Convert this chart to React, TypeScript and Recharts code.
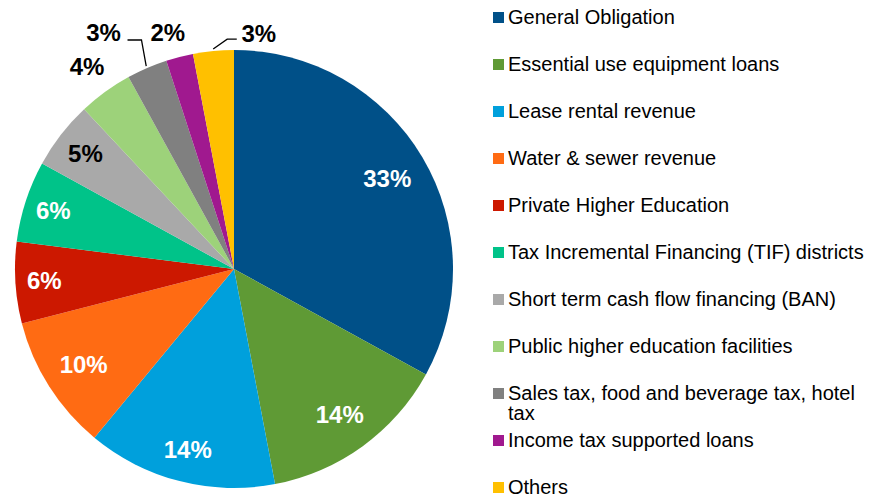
import React from 'react';
import { PieChart, Pie, Cell, Legend } from 'recharts';

const categories = [
  'General Obligation',
  'Essential use equipment loans',
  'Lease rental revenue',
  'Water & sewer revenue',
  'Private Higher Education',
  'Tax Incremental Financing (TIF) districts',
  'Short term cash flow financing (BAN)',
  'Public higher education facilities',
  'Sales tax, food and beverage tax, hotel tax',
  'Income tax supported loans',
  'Others',
];

const shares = [33, 14, 14, 10, 6, 6, 5, 4, 3, 2, 3];

const percentLabels = ['33%', '14%', '14%', '10%', '6%', '6%', '5%', '4%', '3%', '2%', '3%'];

const colors = [
  '#005088', '#5f9a35', '#00a0dc', '#ff6b13', '#cc1800', '#00c389',
  '#a9a9a9', '#9dd27a', '#808080', '#a0198f', '#ffc000',
];

// label placement: radius (px), angular shift (deg, clockwise), text colour
const labelRadius = [178, 180, 186, 178, 190, 190, 188, 250, 270, 246, 237];
const labelShift = [0, 0, 0, 0, 0, 0, 0, 0, -5.5, -1.2, 11.4];
const labelDark = [false, false, false, false, false, false, true, true, true, true, true];
// leader lines: index -> elbow (radius, angle clockwise from top), horizontal end offset from label centre
const leaders: Record<number, { er: number; ea: number; endDx: number }> = {
  8: { er: 247, ea: 338, endDx: 24 },
  10: { er: 230, ea: 358.3, endDx: -22 },
};

const data = categories.map((name, i) => ({ name, value: shares[i] }));

const FONT = '"Liberation Sans", Arial, sans-serif';
const RAD = Math.PI / 180;

const renderLabel = (props: any) => {
  const { cx, cy, midAngle, index } = props;
  const cwMid = 90 - midAngle; // clockwise-from-top angle
  const a = cwMid + labelShift[index];
  const r = labelRadius[index];
  const x = cx + r * Math.sin(a * RAD);
  const y = cy - r * Math.cos(a * RAD);
  const leader = leaders[index];
  let line = null;
  if (leader) {
    const R = props.outerRadius;
    const sx = cx + (R + 2) * Math.sin(cwMid * RAD);
    const sy = cy - (R + 2) * Math.cos(cwMid * RAD);
    const ex = cx + leader.er * Math.sin(leader.ea * RAD);
    const ey = cy - leader.er * Math.cos(leader.ea * RAD);
    line = (
      <polyline
        points={`${sx},${sy} ${ex},${ey} ${x + leader.endDx},${ey}`}
        fill="none"
        stroke="#000"
        strokeWidth={1.3}
      />
    );
  }
  return (
    <g key={`lbl-${index}`}>
      {line}
      <text
        x={x}
        y={y}
        textAnchor="middle"
        dominantBaseline="central"
        fill={labelDark[index] ? '#000' : '#fff'}
        fontFamily={FONT}
        fontWeight="bold"
        fontSize={24}
      >
        {percentLabels[index]}
      </text>
    </g>
  );
};

const renderLegend = () => (
  <div style={{ position: 'relative', width: 869, height: 497, fontFamily: FONT }}>
    {categories.map((name, i) => {
      const rowY = 17 + i * 47;
      return (
        <React.Fragment key={name}>
          <div
            style={{
              position: 'absolute',
              left: 493,
              top: rowY - 5.5,
              width: 11,
              height: 11,
              background: colors[i],
            }}
          />
          <div
            style={{
              position: 'absolute',
              left: 508,
              top: rowY - 10,
              width: 356,
              fontSize: 20,
              lineHeight: '20px',
              color: '#000',
              textAlign: 'left',
            }}
          >
            {name}
          </div>
        </React.Fragment>
      );
    })}
  </div>
);

export default function App() {
  return (
    <div style={{ position: 'absolute', left: 0, top: 0, width: 869, height: 497, background: '#fff' }}>
      <PieChart width={869} height={497} margin={{ top: 0, right: 0, bottom: 0, left: 0 }}>
        <Pie
          data={data}
          dataKey="value"
          nameKey="name"
          cx={234}
          cy={269}
          outerRadius={219}
          startAngle={90}
          endAngle={-270}
          stroke="none"
          label={renderLabel}
          labelLine={false}
          isAnimationActive={false}
        >
          {data.map((d, i) => (
            <Cell key={d.name} fill={colors[i]} />
          ))}
        </Pie>
        <Legend
          layout="vertical"
          align="right"
          verticalAlign="top"
          content={renderLegend}
          wrapperStyle={{ position: 'absolute', left: 0, top: 0, width: 869, height: 497, pointerEvents: 'none' }}
        />
      </PieChart>
    </div>
  );
}
